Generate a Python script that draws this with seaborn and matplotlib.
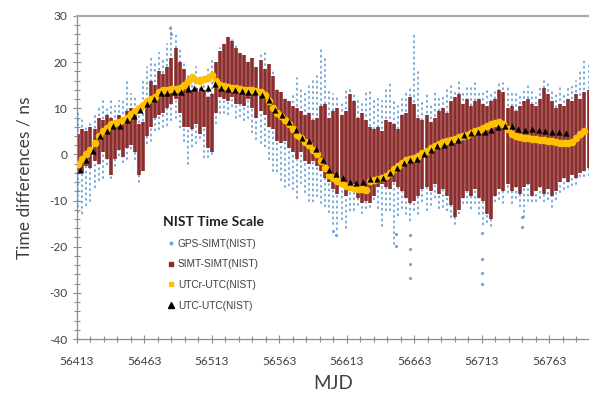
import numpy as np
import pandas as pd
import matplotlib
matplotlib.use("Agg")
import matplotlib.pyplot as plt
from matplotlib.lines import Line2D
from matplotlib.ticker import FixedLocator
import seaborn as sns

# ---- data -----------------------------------------------------------------
# sampling days for the dense series (MJD, every 3 days)
mjd = np.arange(56414, 56793, 3)

# GPS-SIMT(NIST): daily spread (low / high), ns
gps_lo = [-12.5, -13.5, -11.5, -10.0, -8.0, -6.0, -5.0, -3.0, -5.5, -2.5,
          -1.0, -2.0, -1.0, 0.5, -1.5, -6.0, -4.0, 2.0, 3.0, 4.5,
          5.0, 6.0, 5.5, 7.0, 8.0, 5.0, 2.5, -2.0, 1.0, 2.0,
          3.5, -1.5, -1.0, 0.0, 6.0, 8.5, 9.0, 8.0, 10.0, 8.0,
          7.5, 7.0, 8.0, 4.0, 3.0, 2.5, 1.0, -1.5, -3.5, -4.5,
          -6.0, -7.0, -7.5, -8.0, -9.5, -7.0, -8.5, -10.0, -11.0, -9.5,
          -10.5, -12.0, -13.0, -15.0, -17.0, -14.5, -16.0, -13.0, -12.5, -11.0,
          -13.5, -12.0, -11.5, -10.5, -12.0, -15.5, -13.0, -12.5, -19.5, -14.0,
          -12.0, -13.0, -15.0, -12.5, -13.0, -11.0, -12.5, -11.0, -10.0, -12.0,
          -11.5, -13.0, -14.0, -15.0, -13.5, -11.0, -10.5, -12.5, -11.0, -13.0,
          -16.0, -15.0, -15.5, -11.0, -10.0, -10.5, -9.0, -11.0, -9.5, -12.0,
          -14.0, -10.0, -11.0, -10.5, -9.5, -11.0, -10.0, -11.5, -10.5, -8.5,
          -7.5, -8.0, -7.0, -6.5, -5.5, -5.0, -4.5]
gps_hi = [9.0, 8.0, 6.5, 7.0, 8.5, 10.0, 11.5, 10.5, 12.0, 10.5,
          11.5, 12.0, 16.0, 13.0, 12.5, 10.0, 16.5, 19.0, 21.0, 20.0,
          22.0, 21.0, 24.0, 28.0, 26.0, 23.0, 20.0, 17.5, 18.0, 19.0,
          17.0, 16.5, 19.0, 21.0, 19.5, 23.0, 24.0, 26.0, 25.0, 23.5,
          21.0, 21.0, 20.0, 20.5, 19.0, 21.5, 22.0, 20.0, 18.0, 14.0,
          12.5, 12.0, 11.0, 13.0, 16.5, 14.0, 13.5, 15.0, 16.0, 17.0,
          23.0, 21.0, 14.5, 13.0, 12.5, 11.0, 14.0, 14.5, 13.0, 12.5,
          11.0, 13.5, 14.0, 12.0, 12.5, 11.5, 14.0, 15.5, 12.0, 10.5,
          12.0, 13.5, 15.0, 26.0, 18.5, 12.0, 13.5, 11.0, 14.0, 12.5,
          13.0, 14.5, 15.5, 14.0, 16.0, 13.5, 14.5, 15.0, 15.5, 14.0,
          13.5, 14.0, 13.0, 14.5, 16.0, 15.5, 15.0, 14.0, 13.5, 13.0,
          14.5, 15.0, 14.0, 13.0, 14.5, 16.0, 15.5, 14.0, 13.0, 14.5,
          13.0, 14.5, 15.0, 16.0, 18.0, 21.0, 20.0]

# isolated GPS-SIMT(NIST) points outside the daily spread
gps_out_mjd = [56482, 56483, 56603, 56605, 56649, 56649, 56660, 56660,
               56660, 56660, 56713, 56713, 56713, 56713, 56743, 56743]
gps_out_val = [27.5, 26.0, -16.5, -17.5, -17.2, -19.8, -17.5, -20.5,
               -23.8, -26.7, -17.0, -22.7, -25.6, -28.1, -13.5, -15.8]

# SIMT-SIMT(NIST): spread (low / high), ns
simt_lo = [-3.5, -4.0, -2.5, -3.0, -1.5, -2.0, 0.5, -1.0, -4.5, -1.0,
           1.0, -0.5, 1.5, 2.0, 0.5, -4.5, -3.5, 4.0, 6.0, 8.0,
           8.5, 9.0, 10.0, 11.0, 12.0, 9.0, 6.0, 6.0, 5.5, 6.5,
           4.5, 6.0, 1.5, 0.5, 9.0, 12.5, 12.0, 11.5, 12.5, 11.0,
           11.0, 10.5, 12.0, 10.0, 8.0, 9.5, 8.5, 6.0, 5.5, 3.0,
           2.5, 3.0, 1.5, 0.5, -1.0, 0.5, -1.5, -2.0, -1.5, -2.5,
           -3.5, -5.0, -6.0, -7.5, -8.5, -7.0, -9.0, -8.0, -6.5, -9.5,
           -10.5, -10.0, -10.5, -9.0, -7.0, -6.5, -7.0, -7.5, -6.0, -7.0,
           -8.0, -9.5, -10.5, -10.0, -9.0, -7.5, -7.0, -8.0, -6.5, -8.5,
           -7.5, -9.0, -11.0, -13.5, -12.0, -9.5, -8.0, -9.0, -7.5, -9.5,
           -10.0, -13.0, -14.0, -9.0, -7.5, -8.0, -6.5, -8.0, -7.0, -8.5,
           -7.0, -6.5, -9.0, -8.0, -7.0, -8.5, -7.5, -9.0, -8.0, -6.0,
           -5.0, -6.0, -4.5, -5.0, -4.0, -3.5, -3.0]
simt_hi = [4.5, 5.5, 5.0, 6.0, 5.5, 8.0, 7.5, 8.5, 8.0, 7.0,
           8.5, 8.0, 9.5, 10.0, 9.0, 6.5, 7.0, 12.0, 16.0, 15.0,
           18.0, 17.5, 19.0, 21.0, 23.0, 20.0, 18.5, 15.0, 14.0, 14.5,
           13.5, 14.0, 12.5, 13.0, 20.0, 22.5, 24.0, 25.5, 24.5, 23.0,
           22.0, 21.5, 20.0, 21.0, 19.0, 20.5, 18.5, 19.5, 17.0, 14.0,
           13.5, 12.0, 11.5, 10.5, 10.0, 9.5, 8.5, 9.0, 7.5, 8.0,
           10.5, 11.0, 8.0, 9.5, 10.0, 8.5, 9.5, 13.0, 11.5, 8.0,
           9.0, 7.5, 6.0, 5.5, 6.0, 5.0, 7.5, 7.0, 6.5, 5.5,
           8.5, 9.0, 12.5, 11.0, 8.0, 7.5, 8.5, 7.0, 8.0, 9.5,
           10.0, 9.0, 11.5, 12.5, 13.0, 11.0, 12.0, 10.5, 11.5, 12.0,
           11.0, 10.5, 11.5, 12.0, 14.0, 13.5, 10.0, 10.5, 9.5, 10.5,
           11.5, 12.0, 11.0, 10.5, 12.0, 14.5, 13.0, 11.5, 10.0, 11.0,
           10.5, 12.0, 11.5, 13.0, 12.0, 13.5, 14.0]

# UTCr-UTC(NIST), ns (same 3-day grid)
utcr = [-2.0, -1.0, 0.0, 1.0, 2.5, 4.0, 5.0, 5.8, 6.5, 6.8,
        7.0, 7.5, 8.0, 8.8, 9.5, 10.0, 10.8, 11.5, 12.0, 12.5,
        13.5, 14.0, 14.0, 14.2, 14.2, 14.5, 15.0, 16.0, 16.8, 16.2,
        16.0, 16.3, 16.5, 17.2, 16.0, 15.0, 14.8, 14.6, 14.4, 14.3,
        14.2, 14.0, 13.9, 13.9, 13.8, 13.5, 12.8, 11.5, 10.0, 9.0,
        8.3, 7.5, 6.5, 5.5, 4.3, 3.5, 2.8, 2.0, 1.0, 0.0,
        -1.5, -3.0, -4.5, -5.2, -5.8, -6.3, -6.8, -7.1, -7.2, -7.4,
        -7.6, -7.8, -5.8, -5.5, -5.3, -5.0, -4.6, -4.0, -3.2, -2.5,
        -1.8, -1.3, -1.0, -0.7, -0.3, 0.3, 0.8, 1.3, 1.8, 2.2,
        2.6, 3.0, 3.2, 3.3, 3.7, 4.0, 4.3, 4.6, 5.0, 5.4,
        5.8, 6.2, 6.6, 6.9, 7.0, 6.6, 5.6, 4.5, 4.0, 3.8,
        3.6, 3.5, 3.4, 3.3, 3.2, 3.1, 3.0, 2.9, 2.7, 2.5,
        2.4, 2.4, 2.8, 3.5, 4.5, 5.0]

# UTC-UTC(NIST) from Circular T, every 5 days, ns
utc_mjd = np.arange(56415, 56776, 5)
utc = [-3.3, -1.1, 0.7, 3.9, 5.1, 6.1, 6.2, 7.5, 8.3, 9.6,
       10.9, 12.0, 13.3, 13.4, 13.5, 13.6, 14.1, 14.3, 14.3, 14.3,
       15.3, 14.4, 14.2, 14.0, 13.8, 13.6, 13.5, 12.9, 11.9, 9.7,
       8.5, 7.0, 5.2, 3.5, 3.0, 1.2, -1.1, -3.3, -4.3, -5.1,
       -5.9, -6.2, -5.9, -5.4, -5.3, -5.1, -4.1, -2.9, -1.8, -1.1,
       -0.9, 0.1, 0.9, 1.8, 2.0, 2.8, 3.2, 4.3, 4.6, 4.8,
       4.9, 5.2, 5.9, 6.1, 6.2, 5.5, 5.4, 5.6, 5.2, 5.1,
       4.9, 4.8, 4.6]

labels = ["GPS-SIMT(NIST)", "SIMT-SIMT(NIST)", "UTCr-UTC(NIST)", "UTC-UTC(NIST)"]
x_major = [56413, 56463, 56513, 56563, 56613, 56663, 56713, 56763]
y_major = [-40, -30, -20, -10, 0, 10, 20, 30]

# ---- style ------------------------------------------------------------------
BLUE = "#6aa3da"
MAROON = "#8c2d2d"
GOLD = "#ffc000"
AXIS = "#8c8c8c"

sns.set_theme(style="white")
plt.rcParams["font.family"] = ["Lato", "DejaVu Sans"]

fig = plt.figure(figsize=(5.89, 3.94), dpi=100)
ax = fig.add_axes([77 / 589, 1 - 339 / 394, (588.5 - 77) / 589, (339 - 16) / 394])

# GPS-SIMT columns of dots (staggered so the dots do not line up in rows)
dot_styles = [(0, (0.6, 2.4)), (1.0, (0.6, 2.4)), (2.0, (0.6, 2.4))]
ax.vlines(mjd, gps_lo, gps_hi, colors=BLUE, linewidth=1.3,
          linestyles=dot_styles, capstyle="round", zorder=1)
sns.scatterplot(x=gps_out_mjd, y=gps_out_val, color=BLUE, s=5,
                linewidth=0, ax=ax, zorder=1)

# SIMT-SIMT spread
ax.vlines(mjd, simt_lo, simt_hi, colors=MAROON, linewidth=2.6, zorder=2)

# UTCr and UTC points
sns.scatterplot(x=mjd[:len(utcr)], y=utcr, color=GOLD, s=30, marker="o",
                linewidth=0, ax=ax, zorder=3)
sns.scatterplot(x=utc_mjd, y=utc, color="black", s=20, marker="^",
                linewidth=0, ax=ax, zorder=4)

# ---- axes -------------------------------------------------------------------
ax.set_xlim(56413, 56792)
ax.set_ylim(-40, 30)
ax.xaxis.set_major_locator(FixedLocator(x_major))
ax.xaxis.set_minor_locator(FixedLocator(list(range(56413, 56793, 10))))
ax.yaxis.set_major_locator(FixedLocator(y_major))
ax.yaxis.set_minor_locator(FixedLocator(list(range(-40, 31, 2))))
ax.set_xticklabels([str(v) for v in x_major])
ax.set_yticklabels([str(v) for v in y_major])

ax.tick_params(axis="both", which="major", direction="inout", length=6,
               width=0.8, color=AXIS, labelsize=8.6, labelcolor="#404040")
ax.tick_params(axis="both", which="minor", direction="inout", length=4,
               width=0.8, color=AXIS)
ax.tick_params(axis="x", which="both", bottom=True, pad=9)
ax.tick_params(axis="y", which="both", left=True, pad=4)

for side in ("left", "bottom"):
    ax.spines[side].set_color(AXIS)
    ax.spines[side].set_linewidth(0.9)
ax.spines["top"].set_color("#a8a8a8")
ax.spines["top"].set_linewidth(1.6)
ax.spines["right"].set_visible(False)

ax.set_xlabel("MJD", fontsize=13.5, color="#404040", labelpad=6)
ax.set_ylabel("Time differences / ns", fontsize=12.5, color="#404040", labelpad=12)

handles = [
    Line2D([], [], ls="none", marker="o", ms=1.8, color=BLUE),
    Line2D([], [], ls="none", marker="s", ms=2.2, color=MAROON),
    Line2D([], [], ls="none", marker="s", ms=3.4, color=GOLD),
    Line2D([], [], ls="none", marker="^", ms=4.8, color="black"),
]
leg = fig.legend(handles, labels, title="NIST Time Scale", frameon=False,
                 loc="upper left", bbox_to_anchor=(163 / 589, 1 - 216 / 394),
                 bbox_transform=fig.transFigure, borderpad=0, borderaxespad=0,
                 handlelength=0.6, handletextpad=0.35, labelspacing=1.05,
                 prop={"family": "Liberation Sans", "size": 7.3},
                 title_fontproperties={"family": "Lato", "weight": "bold", "size": 10})
for t in leg.get_texts():
    t.set_color("#404040")
leg.get_title().set_color("#202020")

fig.savefig("out.png", dpi=100)
